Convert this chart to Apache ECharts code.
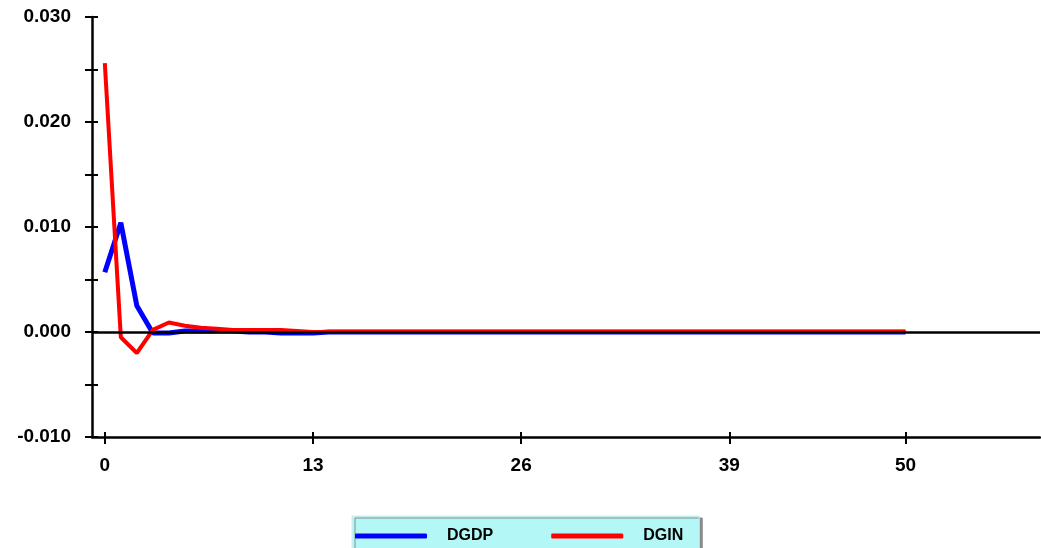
<!DOCTYPE html>
<html>
<head>
<meta charset="utf-8">
<script src="https://cdn.jsdelivr.net/npm/echarts@6/dist/echarts.min.js"></script>
<style>html,body{margin:0;padding:0;background:#fff}#c{width:1041px;height:548px}</style>
</head>
<body>
<div id="c"></div>
<script>
var periods = [];
for (var i = 0; i <= 50; i++) periods.push(i);
var dgdp = [0.0057, 0.0104, 0.0025, -0.0001, -0.0001, 0.0001, 0.0001, 0.0001, 0.0001, 0.0000,
  0.0000, -0.0001, -0.0001, -0.0001, 0, 0, 0, 0, 0, 0,
  0, 0, 0, 0, 0, 0, 0, 0, 0, 0,
  0, 0, 0, 0, 0, 0, 0, 0, 0, 0,
  0, 0, 0, 0, 0, 0, 0, 0, 0, 0, 0];
var dgin = [0.0256, -0.0005, -0.0020, 0.0002, 0.0009, 0.0006, 0.0004, 0.0003, 0.0002, 0.0002,
  0.0002, 0.0002, 0.0001, 0.0000, 0, 0, 0, 0, 0, 0,
  0, 0, 0, 0, 0, 0, 0, 0, 0, 0,
  0, 0, 0, 0, 0, 0, 0, 0, 0, 0,
  0, 0, 0, 0, 0, 0, 0, 0, 0, 0, 0];
var xTickLabels = [0, 13, 26, 39, 50];
var yTickLabels = [-0.01, 0, 0.01, 0.02, 0.03];
var yTicks = [-0.01, -0.005, 0, 0.005, 0.01, 0.015, 0.02, 0.025, 0.03];

function pairs(arr) { return periods.map(function (p, i) { return [p, arr[i]]; }); }

var fontBase = {fontFamily: 'Liberation Sans, Arial, sans-serif', fontWeight: 'bold', fontSize: 19, color: '#000'};
var chart = echarts.init(document.getElementById('c'), null, {renderer: 'canvas'});
var xMin = -0.8, xMax = 58.4;
chart.setOption({
  animation: false,
  backgroundColor: '#fff',
  grid: {left: 92, right: 1, top: 17, bottom: 111, containLabel: false},
  legend: {
    left: 352, top: 516, width: 360, height: 29,
    padding: [12, 16, 11, 3],
    itemGap: 58,
    itemWidth: 72, itemHeight: 5,
    icon: 'roundRect',
    backgroundColor: '#b3f7f7',
    borderColor: '#cfeeee', borderWidth: 1,
    shadowColor: '#8a8a8a', shadowOffsetX: 3, shadowOffsetY: 2, shadowBlur: 0,
    textStyle: Object.assign({}, fontBase, {fontSize: 16, padding: [2, 0, 0, 15]}),
    data: ['DGDP', 'DGIN']
  },
  xAxis: [{
    type: 'value', min: xMin, max: xMax, position: 'bottom',
    axisLine: {onZero: false, lineStyle: {color: '#000', width: 2.5}},
    axisTick: {show: true, inside: false, length: 7, customValues: xTickLabels, lineStyle: {color: '#000', width: 2}},
    axisLabel: Object.assign({}, fontBase, {customValues: xTickLabels, margin: 19}),
    splitLine: {show: false}
  }, {
    type: 'value', min: xMin, max: xMax, position: 'bottom',
    axisLine: {onZero: false, show: false},
    axisTick: {show: true, inside: true, length: 5, customValues: xTickLabels, lineStyle: {color: '#000', width: 2}},
    axisLabel: {show: false},
    splitLine: {show: false}
  }],
  yAxis: [{
    type: 'value', min: -0.01, max: 0.03, interval: 0.005,
    axisLine: {show: true, onZero: false, lineStyle: {color: '#000', width: 2.5}},
    axisTick: {show: true, inside: false, length: 7, customValues: yTicks, lineStyle: {color: '#000', width: 2}},
    axisLabel: Object.assign({}, fontBase, {customValues: yTickLabels, margin: 21, formatter: function (v) { return v.toFixed(3); }}),
    splitLine: {show: false}
  }, {
    type: 'value', min: -0.01, max: 0.03, interval: 0.005, position: 'left',
    axisLine: {show: false, onZero: false},
    axisTick: {show: true, inside: true, length: 6, customValues: yTicks, lineStyle: {color: '#000', width: 2}},
    axisLabel: {show: false},
    splitLine: {show: false}
  }],
  series: [{
    name: 'DGDP', type: 'line', data: pairs(dgdp), showSymbol: false, symbol: 'none',
    itemStyle: {color: '#0000ff'},
    lineStyle: {color: '#0000ff', width: 5}
  }, {
    name: 'DGIN', type: 'line', data: pairs(dgin), showSymbol: false, symbol: 'none',
    itemStyle: {color: '#ff0000'},
    lineStyle: {color: '#ff0000', width: 4},
    markLine: {
      silent: true, symbol: 'none', label: {show: false},
      lineStyle: {color: '#000', width: 2.5, type: 'solid'},
      data: [{yAxis: 0}]
    }
  }]
});
</script>
</body>
</html>
